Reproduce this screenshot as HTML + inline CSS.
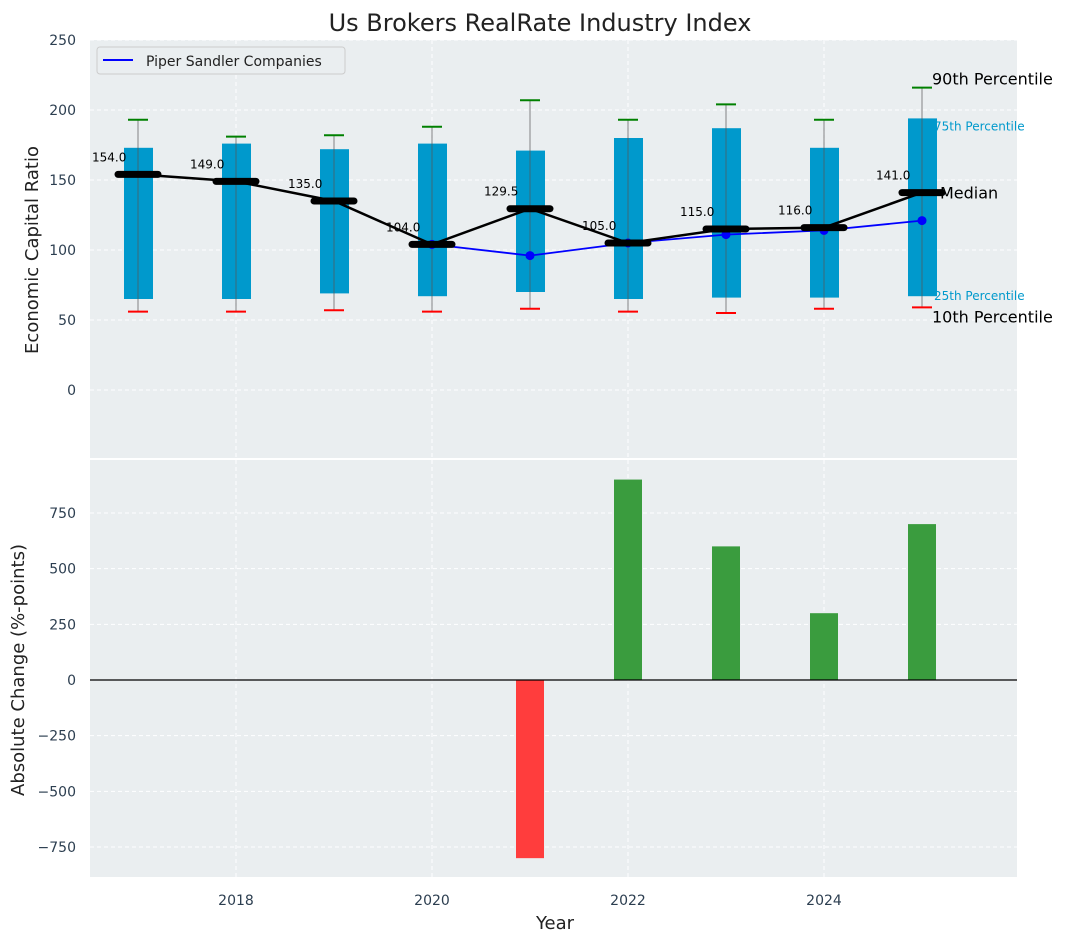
<!DOCTYPE html>
<html><head><meta charset="utf-8">
<style>
body{margin:0;background:#fff;}
svg{display:block;font-family:"DejaVu Sans","Liberation Sans",sans-serif;}
</style></head>
<body>
<svg id="chart" width="1067" height="942" xmlns="http://www.w3.org/2000/svg"></svg>
<script>
const years=[2017,2018,2019,2020,2021,2022,2023,2024,2025];
const p90=[193,181,182,188,207,193,204,193,216];
const q3=[173,176,172,176,171,180,187,173,194];
const medians=[154,149,135,104,129.5,105,115,116,141];
const q1=[65,65,69,67,70,65,66,66,67];
const p10=[56,56,57,56,58,56,55,58,59];
const piperYears=[2020,2021,2022,2023,2024,2025];
const piper=[104,96,105,111,114,121];
const changeYears=[2021,2022,2023,2024,2025];
const changes=[-800,900,600,300,700];
const topTicks=[0,50,100,150,200,250];
const botTicks=[-750,-500,-250,0,250,500,750];
const xTicks=[2018,2020,2022,2024];

const svg=document.getElementById('chart');
const NS='http://www.w3.org/2000/svg';
function mk(tag,attrs,parent,name,text){
  const e=document.createElementNS(NS,tag);
  for(const k in attrs)e.setAttribute(k,attrs[k]);
  
  
  if(text!==undefined)e.textContent=text;
  (parent||svg).appendChild(e);return e;
}
const L=90,R=1017;
const x=v=>138+(v-2017)*98;
const yT=v=>390-v*1.4;
const yB=v=>680-v*0.2227;
const bg='#eaeef0';
mk('rect',{x:L,y:40,width:R-L,height:418,fill:bg},svg,'top-plot-area');
mk('rect',{x:L,y:460,width:R-L,height:417,fill:bg},svg,'bottom-plot-area');
mk('text',{x:540,y:31,'font-size':24,'text-anchor':'middle',fill:'#222'},svg,'chart-title','Us Brokers RealRate Industry Index');
xTicks.forEach(t=>{
  mk('line',{x1:x(t),x2:x(t),y1:40,y2:458,stroke:'#fff','stroke-dasharray':'4,3'},svg,'top-x-grid');
  mk('line',{x1:x(t),x2:x(t),y1:460,y2:877,stroke:'#fff','stroke-dasharray':'4,3'},svg,'bottom-x-grid');
  mk('text',{x:x(t),y:905,'font-size':14,'text-anchor':'middle',fill:'#2c3e50'},svg,'x-tick-label',t);
});
topTicks.forEach(t=>{
  mk('line',{x1:L,x2:R,y1:yT(t),y2:yT(t),stroke:'#fff','stroke-dasharray':'4,3'},svg,'top-y-grid');
  mk('text',{x:76,y:yT(t)+5,'font-size':14,'text-anchor':'end',fill:'#2c3e50'},svg,'top-y-tick-label',t);
});
botTicks.forEach(t=>{
  mk('line',{x1:L,x2:R,y1:yB(t),y2:yB(t),stroke:'#fff','stroke-dasharray':'4,3'},svg,'bottom-y-grid');
  mk('text',{x:76,y:yB(t)+5,'font-size':14,'text-anchor':'end',fill:'#2c3e50'},svg,'bottom-y-tick-label',String(t).replace('-','\u2212'));
});
mk('text',{x:0,y:0,'font-size':18,'text-anchor':'middle',fill:'#222',transform:'translate(38,250) rotate(-90)'},svg,'top-y-axis-title','Economic Capital Ratio');
mk('text',{x:0,y:0,'font-size':18,'text-anchor':'middle',fill:'#222',transform:'translate(24,670) rotate(-90)'},svg,'bottom-y-axis-title','Absolute Change (%-points)');
mk('text',{x:555,y:929,'font-size':18,'text-anchor':'middle',fill:'#222'},svg,'x-axis-title','Year');
years.forEach((yr,i)=>{
  const cx=x(yr);
  mk('rect',{x:cx-14,y:yT(q3[i]),width:29,height:yT(q1[i])-yT(q3[i]),fill:'#0099cc'},svg,'iqr-box');
  mk('line',{x1:cx,x2:cx,y1:yT(p90[i]),y2:yT(p10[i]),stroke:'#555','stroke-width':1,opacity:0.7},svg,'whisker');
  mk('line',{x1:cx-10,x2:cx+10,y1:yT(p90[i]),y2:yT(p90[i]),stroke:'green','stroke-width':2},svg,'p90-cap');
  mk('line',{x1:cx-10,x2:cx+10,y1:yT(p10[i]),y2:yT(p10[i]),stroke:'red','stroke-width':2},svg,'p10-cap');
});
mk('polyline',{points:piperYears.map((yr,i)=>x(yr)+','+yT(piper[i])).join(' '),fill:'none',stroke:'blue','stroke-width':1.8},svg,'piper-line');
piperYears.forEach((yr,i)=>mk('circle',{cx:x(yr),cy:yT(piper[i]),r:4.5,fill:'blue'},svg,'piper-point'));
mk('polyline',{points:years.map((yr,i)=>x(yr)+','+yT(medians[i])).join(' '),fill:'none',stroke:'#000','stroke-width':2.5},svg,'median-line');
years.forEach((yr,i)=>{
  mk('line',{x1:x(yr)-20,x2:x(yr)+20,y1:yT(medians[i]),y2:yT(medians[i]),stroke:'#000','stroke-width':7,'stroke-linecap':'round'},svg,'median-marker');
  mk('text',{x:x(yr)-46,y:yT(medians[i])-13,'font-size':12,fill:'#000'},svg,'median-label',medians[i].toFixed(1));
});
const lx=x(2025);
mk('text',{x:lx+10,y:yT(p90[8])-3,'font-size':16,fill:'#000'},svg,'p90-annotation','90th Percentile');
mk('text',{x:lx+12,y:yT(q3[8])+12,'font-size':12,fill:'#0099cc'},svg,'p75-annotation','75th Percentile');
mk('text',{x:lx+18,y:yT(medians[8])+6,'font-size':16,fill:'#000'},svg,'median-annotation','Median');
mk('text',{x:lx+12,y:yT(q1[8])+4,'font-size':12,fill:'#0099cc'},svg,'p25-annotation','25th Percentile');
mk('text',{x:lx+10,y:yT(p10[8])+15,'font-size':16,fill:'#000'},svg,'p10-annotation','10th Percentile');
const lg=mk('g',{},svg,'legend');
mk('rect',{x:97,y:47,width:248,height:27,rx:3,fill:'#eaeef0',stroke:'#ccc'},lg,'legend-box');
mk('line',{x1:103,x2:133,y1:60,y2:60,stroke:'blue','stroke-width':2},lg,'legend-swatch');
mk('text',{x:146,y:66,'font-size':14,fill:'#222'},lg,'legend-entry','Piper Sandler Companies');
changeYears.forEach((yr,i)=>{
  const v=changes[i];
  const y0=yB(Math.max(v,0)),y1=yB(Math.min(v,0));
  mk('rect',{x:x(yr)-14,y:y0,width:28,height:y1-y0,fill:v<0?'#ff3d3d':'#3a9c3e'},svg,'change-bar-'+yr);
});
mk('line',{x1:L,x2:R,y1:yB(0),y2:yB(0),stroke:'#000','stroke-width':1.2},svg,'zero-line');
</script>
</body></html>
